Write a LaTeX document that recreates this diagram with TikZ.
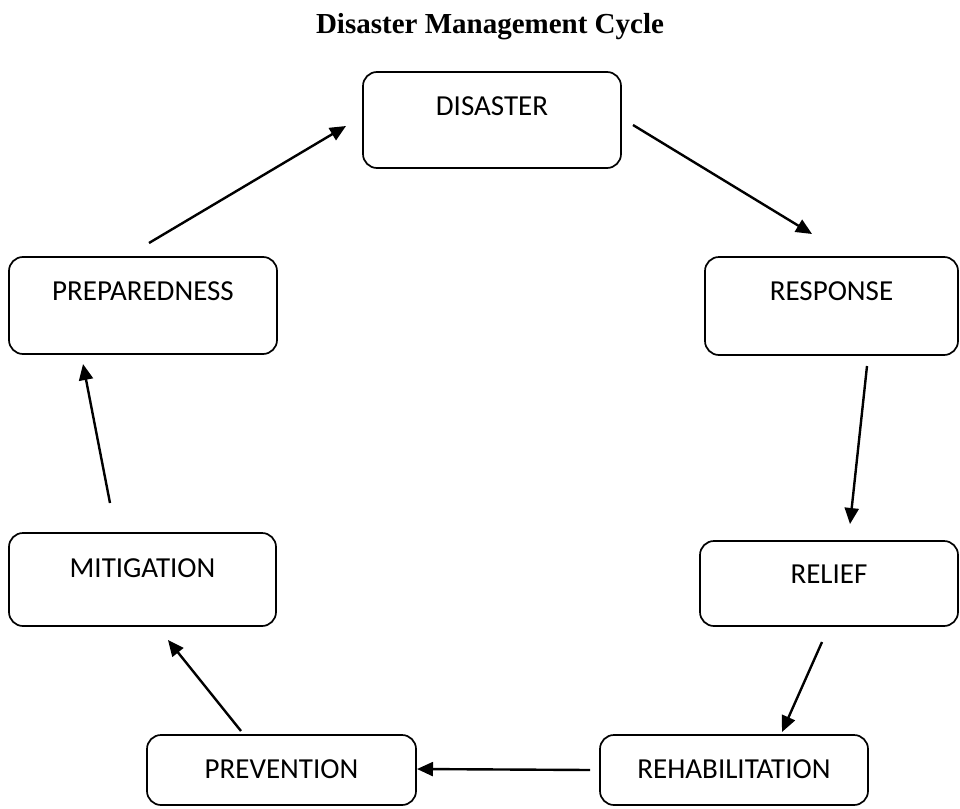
\documentclass[tikz,border=0pt]{standalone}
\usepackage{fontspec}
\setmainfont{Carlito}
\newfontfamily\titlefont{Liberation Serif}
\usetikzlibrary{arrows.meta}
\tikzset{
  stagebox/.style={draw, line width=1.7pt, rounded corners=14pt, inner sep=0pt,
    font=\fontsize{29}{31}\selectfont, align=center},
  arr/.style={line width=2.4pt, -{Triangle[length=16pt,width=14pt]}},
  titletext/.style={font=\titlefont\bfseries\fontsize{29}{32}\selectfont}
}
\begin{document}
\begin{tikzpicture}[x=1pt,y=-1pt]
\useasboundingbox (0,0) rectangle (960,808);
\node[titletext] (title) at (490,27) {Disaster Management Cycle};

\node[stagebox, minimum width=258pt, minimum height=96pt, text height=43pt, text depth=53pt] (dis) at (492,120) {DISASTER};
\node[stagebox, minimum width=253pt, minimum height=98pt, text height=43pt, text depth=55pt] (resp) at (831.5,306) {RESPONSE};
\node[stagebox, minimum width=268pt, minimum height=97pt, text height=43pt, text depth=54pt] (prep) at (143,305.5) {PREPAREDNESS};
\node[stagebox, minimum width=267pt, minimum height=93pt, text height=44pt, text depth=49pt] (mit) at (142.5,579.5) {MITIGATION};
\node[stagebox, minimum width=258pt, minimum height=85pt, text height=42pt, text depth=43pt] (rel) at (829,583.5) {RELIEF};
\node[stagebox, minimum width=269pt, minimum height=70pt, text height=43pt, text depth=27pt] (prev) at (281.5,770) {PREVENTION};
\node[stagebox, minimum width=268pt, minimum height=70pt, text height=43pt, text depth=27pt] (rehab) at (734,770) {REHABILITATION};

\coordinate (a1s) at (149,243);  \coordinate (a1e) at (346,126);
\coordinate (a2s) at (633,125);  \coordinate (a2e) at (812,234);
\coordinate (a3s) at (867,366);  \coordinate (a3e) at (850,524);
\coordinate (a4s) at (822,642);  \coordinate (a4e) at (782,732);
\coordinate (a5s) at (590,770);  \coordinate (a5e) at (417,769);
\coordinate (a6s) at (241,731);  \coordinate (a6e) at (168,640);
\coordinate (a7s) at (110,503);  \coordinate (a7e) at (83,364);

\draw[arr] (a1s) -- (a1e);
\draw[arr] (a2s) -- (a2e);
\draw[arr] (a3s) -- (a3e);
\draw[arr] (a4s) -- (a4e);
\draw[arr] (a5s) -- (a5e);
\draw[arr] (a6s) -- (a6e);
\draw[arr] (a7s) -- (a7e);
\end{tikzpicture}
\end{document}
